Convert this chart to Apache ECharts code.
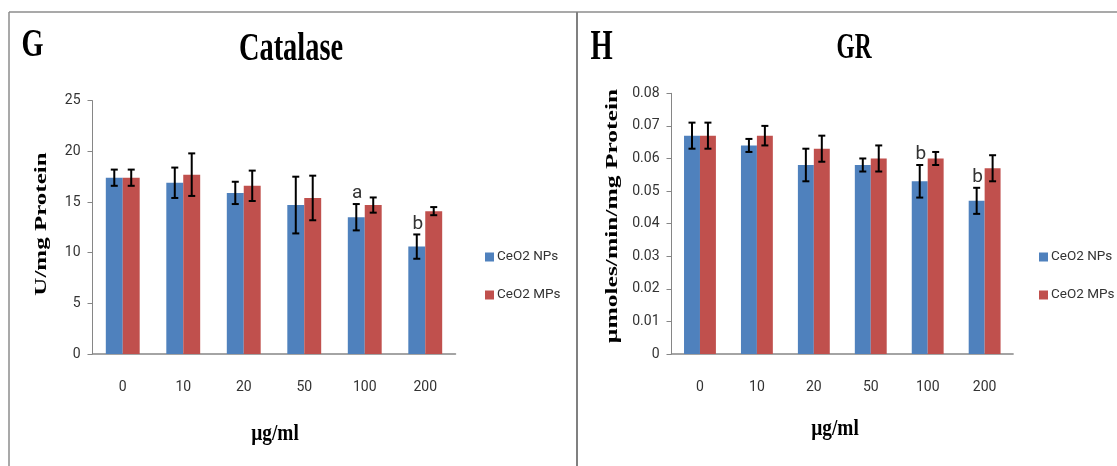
<!DOCTYPE html>
<html>
<head>
<meta charset="utf-8">
<script src="https://cdn.jsdelivr.net/npm/echarts@6/dist/echarts.min.js"></script>
<style>
  html, body { margin: 0; padding: 0; background: #fff; }
  #main { width: 1117px; height: 466px; }
</style>
</head>
<body>
<div id="main"></div>
<script>
// Doses (µg/ml) shared by both panels
const doses = ['0', '10', '20', '50', '100', '200'];

// Panel G: catalase activity (U/mg protein), mean and SD
const catalaseNPs = [17.4, 16.9, 15.9, 14.7, 13.5, 10.6];
const catalaseNPsSD = [0.8, 1.5, 1.1, 2.8, 1.3, 1.2];
const catalaseMPs = [17.4, 17.7, 16.6, 15.4, 14.7, 14.1];
const catalaseMPsSD = [0.8, 2.1, 1.5, 2.2, 0.75, 0.4];
const catalaseNPsSig = ['', '', '', '', 'a', 'b'];
const catalaseAxisMax = 25;
const catalaseAxisStep = 5;

// Panel H: glutathione reductase (µmoles/min/mg protein), mean and SD
const grNPs = [0.067, 0.064, 0.058, 0.058, 0.053, 0.047];
const grNPsSD = [0.004, 0.002, 0.005, 0.002, 0.005, 0.004];
const grMPs = [0.067, 0.067, 0.063, 0.060, 0.060, 0.057];
const grMPsSD = [0.004, 0.003, 0.004, 0.004, 0.002, 0.004];
const grNPsSig = ['', '', '', '', 'b', 'b'];
const grAxisMax = 0.08;
const grAxisStep = 0.01;

const seriesNames = ['CeO2 NPs', 'CeO2 MPs'];

const BLUE = '#4F81BD';
const RED = '#C0504D';
const AXIS = '#868686';
const SANS = "Roboto, 'Liberation Sans', sans-serif";
const SERIF = "'Liberation Serif', 'Times New Roman', serif";
const BAR_FRAC = 0.28;

function bar(name, idx, data, color) {
  return {
    type: 'bar', name: name, xAxisIndex: idx, yAxisIndex: idx,
    data: data, barWidth: (BAR_FRAC * 100) + '%', barGap: '0%',
    itemStyle: { color: color }, silent: true
  };
}

// Error bars (±SD) with optional significance letter above them
function errorBars(name, idx, means, sds, side, marks) {
  return {
    type: 'custom', name: name, xAxisIndex: idx, yAxisIndex: idx, z: 5, silent: true,
    data: means.map((m, i) => [i, m, sds[i]]),
    encode: { x: 0, y: 1 },
    renderItem: function (params, api) {
      const i = api.value(0), m = api.value(1), e = api.value(2);
      const band = api.size([1, 0])[0];
      const cx = api.coord([i, m])[0] + side * band * BAR_FRAC / 2;
      const yTop = api.coord([i, m + e])[1];
      const yBot = api.coord([i, m - e])[1];
      const cap = 3.5;
      const ls = { stroke: '#000', lineWidth: 2 };
      const children = [
        { type: 'line', shape: { x1: cx, y1: yTop, x2: cx, y2: yBot }, style: ls },
        { type: 'line', shape: { x1: cx - cap, y1: yTop, x2: cx + cap, y2: yTop }, style: ls },
        { type: 'line', shape: { x1: cx - cap, y1: yBot, x2: cx + cap, y2: yBot }, style: ls }
      ];
      const mark = marks ? marks[params.dataIndex] : '';
      if (mark) {
        children.push({
          type: 'text', x: cx + 1, y: yTop - 1,
          style: {
            text: mark, fill: '#333', fontSize: 19, fontFamily: SANS,
            align: 'center', verticalAlign: 'bottom',
            textAlign: 'center', textVerticalAlign: 'bottom'
          }
        });
      }
      return { type: 'group', children: children };
    }
  };
}

function xAxis(idx) {
  return {
    type: 'category', gridIndex: idx, data: doses,
    axisLine: { lineStyle: { color: AXIS, width: 1.5 } },
    axisTick: { show: false },
    axisLabel: { margin: 26, fontSize: 14, color: '#333', fontFamily: SANS }
  };
}

function yAxis(idx, max, step) {
  return {
    type: 'value', gridIndex: idx, min: 0, max: max, interval: step,
    splitLine: { show: false },
    axisLine: { show: true, lineStyle: { color: AXIS, width: 1 } },
    axisTick: { show: true, length: 5, lineStyle: { color: AXIS } },
    axisLabel: { margin: 12, fontSize: 14, color: '#333', fontFamily: SANS }
  };
}

function legend(left) {
  return {
    data: seriesNames, orient: 'vertical', left: left, top: 245,
    icon: 'rect', itemWidth: 9, itemHeight: 9, itemGap: 24,
    selectedMode: false,
    textStyle: { fontSize: 13.5, color: '#333', fontFamily: SANS, padding: [0, 0, 0, -2] }
  };
}

// Condensed serif headings and axis names
function label(text, x, y, size, sx, rot) {
  const el = {
    type: 'text', x: x, y: y, silent: true,
    style: {
      text: text, fill: '#000', fontSize: size, fontWeight: 'bold', fontFamily: SERIF,
      align: 'center', verticalAlign: 'middle',
      textAlign: 'center', textVerticalAlign: 'middle'
    }
  };
  if (rot) { el.rotation = Math.PI / 2; el.scaleY = sx; }
  else { el.scaleX = sx; }
  return el;
}

function rule(x1, y1, x2, y2, w, c) {
  return { type: 'line', silent: true, shape: { x1: x1, y1: y1, x2: x2, y2: y2 },
           style: { stroke: c, lineWidth: w } };
}

const chart = echarts.init(document.getElementById('main'), null, { renderer: 'canvas' });

chart.setOption({
  backgroundColor: '#fff',
  animation: false,
  grid: [
    { left: 92.5, top: 100.7, width: 363, height: 253.3 },
    { left: 671.5, top: 93.3, width: 341.6, height: 260.7 }
  ],
  xAxis: [xAxis(0), xAxis(1)],
  yAxis: [yAxis(0, catalaseAxisMax, catalaseAxisStep), yAxis(1, grAxisMax, grAxisStep)],
  legend: [legend(480), legend(1034)],
  series: [
    bar(seriesNames[0], 0, catalaseNPs, BLUE),
    bar(seriesNames[1], 0, catalaseMPs, RED),
    bar(seriesNames[0], 1, grNPs, BLUE),
    bar(seriesNames[1], 1, grMPs, RED),
    errorBars('NPs SD G', 0, catalaseNPs, catalaseNPsSD, -1, catalaseNPsSig),
    errorBars('MPs SD G', 0, catalaseMPs, catalaseMPsSD, 1, null),
    errorBars('NPs SD H', 1, grNPs, grNPsSD, -1, grNPsSig),
    errorBars('MPs SD H', 1, grMPs, grMPsSD, 1, null)
  ],
  graphic: [
    // panel frames
    rule(9, 12, 1117, 12, 1.5, '#8c8c8c'),
    rule(9, 12, 9, 466, 1.5, '#8c8c8c'),
    rule(577, 12, 577, 466, 2, '#808080'),
    // panel G
    label('G', 32.5, 46, 40, 0.71),
    label('Catalase', 291, 50, 40, 0.71),
    label('U/mg Protein', 42, 224, 25, 0.68, true),
    label('µg/ml', 275, 434, 23, 0.84),
    // panel H
    label('H', 601.7, 48, 42, 0.68),
    label('GR', 854, 48.5, 35, 0.67),
    label('µmoles/min/mg Protein', 613, 216, 25.5, 0.62, true),
    label('µg/ml', 835, 429, 23, 0.84)
  ]
});
</script>
</body>
</html>
